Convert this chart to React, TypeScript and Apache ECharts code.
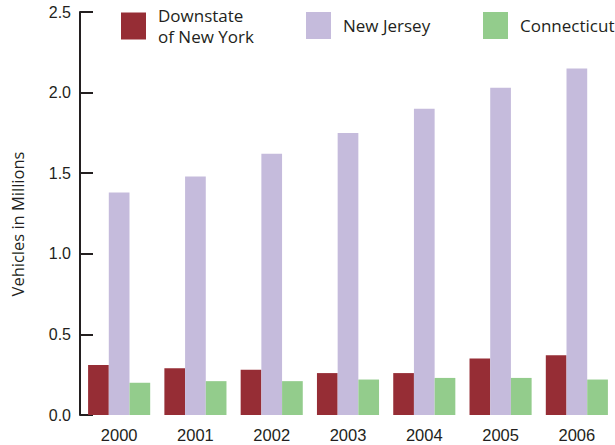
import React, { useEffect, useRef } from "react";
import * as echarts from "echarts";

const years = ["2000", "2001", "2002", "2003", "2004", "2005", "2006"];
const downstateNY = [0.31, 0.29, 0.28, 0.26, 0.26, 0.35, 0.37];
const newJersey = [1.38, 1.48, 1.62, 1.75, 1.9, 2.03, 2.15];
const connecticut = [0.2, 0.21, 0.21, 0.22, 0.23, 0.23, 0.22];
const seriesNames = ["Downstate\nof New York", "New Jersey", "Connecticut"];
const colors = ["#962d35", "#c5bbdc", "#93cc8c"];

const textColor = "#231f20";
const legendFont = "'Open Sans', sans-serif";
const axisFont = "'Liberation Sans', Arial, sans-serif";

export default function App() {
  const ref = useRef<HTMLDivElement>(null);
  useEffect(() => {
    document.body.style.margin = "0";
    if (!ref.current) return;
    const chart = echarts.init(ref.current, null, { renderer: "svg" });
    const legendBase = {
      top: 12,
      padding: 0,
      itemWidth: 25,
      itemHeight: 27,
      icon: "rect",
      selectedMode: false,
      textStyle: {
        fontFamily: legendFont,
        fontSize: 17,
        color: textColor,
        lineHeight: 21,
        padding: [0, 0, 0, 7],
      },
    };
    const data = [downstateNY, newJersey, connecticut];
    chart.setOption({
      animation: false,
      backgroundColor: "#ffffff",
      grid: { left: 81, top: 12, bottom: 30, width: 540 },
      legend: [
        { ...legendBase, left: 121, top: 5, data: [seriesNames[0]] },
        { ...legendBase, left: 306, data: [seriesNames[1]] },
        { ...legendBase, left: 483, data: [seriesNames[2]] },
      ],
      xAxis: {
        type: "category",
        data: years,
        axisLine: { show: false },
        axisTick: { show: false },
        axisLabel: {
          margin: 11,
          fontFamily: axisFont,
          fontSize: 16.5,
          color: textColor,
        },
      },
      yAxis: {
        type: "value",
        min: 0,
        max: 2.5,
        interval: 0.5,
        offset: 1,
        splitLine: { show: false },
        axisLine: { show: true, lineStyle: { color: textColor, width: 2 } },
        axisTick: {
          show: true,
          inside: true,
          length: 13,
          lineStyle: { color: textColor, width: 2 },
        },
        axisLabel: {
          margin: 9,
          fontFamily: axisFont,
          fontSize: 16,
          color: textColor,
          verticalAlign: "middle",
          padding: [9, 0, 0, 0],
          formatter: (v: number) => v.toFixed(1),
        },
      },
      graphic: [
        {
          type: "text",
          x: 17,
          y: 224,
          rotation: Math.PI / 2,
          style: {
            text: "Vehicles in Millions",
            fontFamily: legendFont,
            fontSize: 16.5,
            fill: textColor,
            align: "center",
            verticalAlign: "middle",
          },
        },
      ],
      series: seriesNames.map((name, i) => ({
        name,
        type: "bar",
        data: data[i],
        barWidth: 20.7,
        barGap: "0%",
        itemStyle: { color: colors[i] },
      })),
    });
    return () => chart.dispose();
  }, []);
  return <div ref={ref} style={{ width: 615, height: 445 }} />;
}
